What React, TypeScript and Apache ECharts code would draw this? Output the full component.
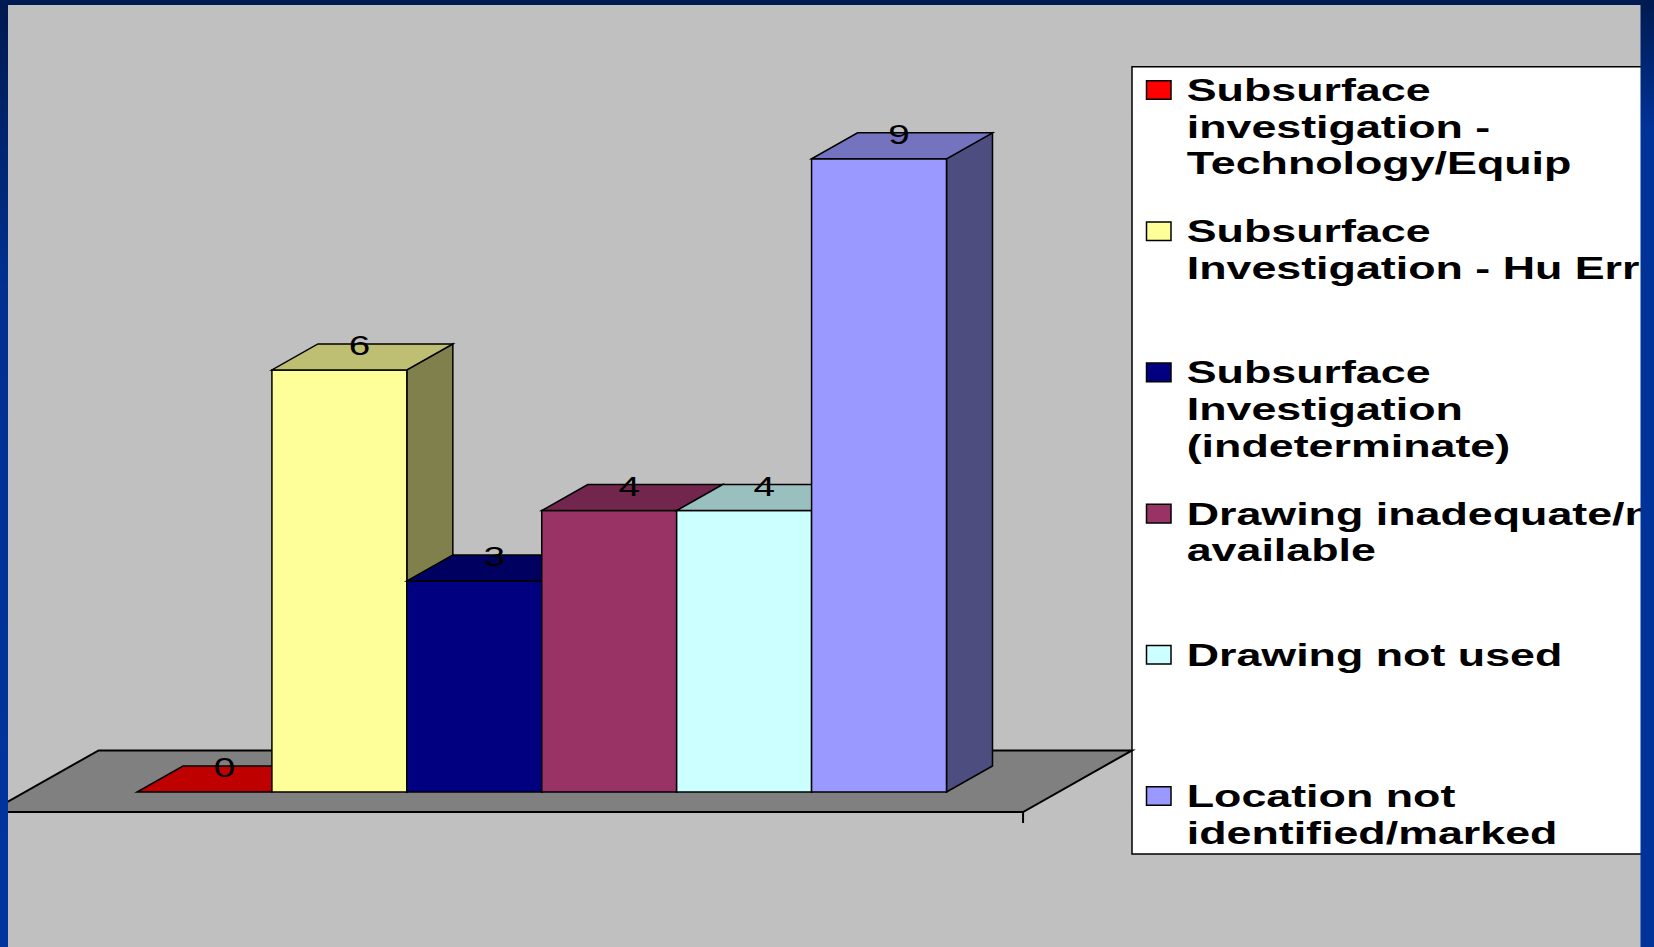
import React, { useEffect, useRef } from "react";
import * as echarts from "echarts";

// ---- data ----
const categories: string[] = [
  "Subsurface\ninvestigation -\nTechnology/Equip",
  "Subsurface\nInvestigation - Hu Error",
  "Subsurface\nInvestigation\n(indeterminate)",
  "Drawing inadequate/not\navailable",
  "Drawing not used",
  "Location not\nidentified/marked",
];
const values: number[] = [0, 6, 3, 4, 4, 9];
const colors: string[] = ["#ff0000", "#ffff99", "#000080", "#993366", "#ccffff", "#9999ff"];

// ---- style / layout constants ----
const W = 1654;
const H = 947;
const DX = 46;
const DY = -26;
const STRETCH = 1.38;
const LEGEND_STRETCH = 1.4;

function shade(hex: string, k: number): string {
  const n = parseInt(hex.slice(1), 16);
  const r = Math.round(((n >> 16) & 255) * k);
  const g = Math.round(((n >> 8) & 255) * k);
  const b = Math.round((n & 255) * k);
  return "rgb(" + r + "," + g + "," + b + ")";
}

export default function App() {
  const ref = useRef<HTMLDivElement>(null);

  useEffect(() => {
    if (!ref.current) return;
    const chart = echarts.init(ref.current, null, { renderer: "svg" });

    const stroke = { stroke: "#000", lineWidth: 1.5, lineJoin: "miter" as const };

    const legendLH = 36.7;
    const legendTop = 90;
    const legendStep = 141.2;
    const legendChildren: any[] = [
      {
        type: "rect",
        shape: { x: 1132, y: 66.7, width: 600, height: 787.3 },
        style: { fill: "#ffffff", stroke: "#000", lineWidth: 1.5 },
      },
    ];
    categories.forEach((name, i) => {
      const cy = legendTop + i * legendStep;
      legendChildren.push({
        type: "rect",
        shape: { x: 1146.5, y: cy - 9.3, width: 24.5, height: 18.6 },
        style: { fill: colors[i], stroke: "#000", lineWidth: 1.5 },
      });
      legendChildren.push({
        type: "text",
        x: 1186.7,
        y: cy - legendLH / 2,
        scaleX: LEGEND_STRETCH,
        style: {
          text: name,
          fontSize: 32,
          fontWeight: "bold",
          fontFamily: "Liberation Sans, Arial, sans-serif",
          fill: "#000",
          lineHeight: legendLH,
          align: "left",
          verticalAlign: "top",
        },
      });
    });

    const option: any = {
      animation: false,
      backgroundColor: "#c0c0c0",
      grid: { left: 137, right: W - 946.5, top: 88.5, bottom: H - 792 },
      xAxis: { type: "category", data: categories, show: false },
      yAxis: { type: "value", min: 0, max: 10, show: false, splitLine: { show: false } },
      series: [
        {
          type: "custom",
          z: 1,
          data: [[0, 0]],
          renderItem: (params: any, api: any) => {
            const cs = params.coordSys;
            const baseY = cs.y + cs.height;
            const bw = api.size([1, 0])[0];
            const margin = bw * 0.83;
            const L = cs.x - margin;
            const R = cs.x + cs.width + margin;
            const f = -0.77;
            const b = 1.6;
            const pts = [
              [L + DX * f, baseY + DY * f],
              [R + DX * f, baseY + DY * f],
              [R + DX * b, baseY + DY * b],
              [L + DX * b, baseY + DY * b],
            ];
            return {
              type: "group",
              children: [
                {
                  type: "polygon",
                  shape: { points: pts },
                  style: { fill: "#808080", stroke: "#000", lineWidth: 2 },
                },
                {
                  type: "line",
                  shape: { x1: pts[1][0], y1: pts[1][1], x2: pts[1][0], y2: pts[1][1] + 11 },
                  style: { stroke: "#000", lineWidth: 2 },
                },
              ],
            };
          },
        },
        {
          type: "custom",
          z: 2,
          data: values.map((v, i) => [i, v]),
          renderItem: (params: any, api: any) => {
            const i = params.dataIndex;
            const v = api.value(1);
            const base = api.coord([api.value(0), 0]);
            const top = api.coord([api.value(0), v]);
            const bw = api.size([1, 0])[0];
            const x0 = base[0] - bw / 2;
            const x1 = base[0] + bw / 2;
            const yb = base[1];
            const yt = top[1];
            const c = colors[i];
            const children: any[] = [];
            if (v > 0) {
              children.push({
                type: "polygon",
                shape: { points: [[x1, yb], [x1 + DX, yb + DY], [x1 + DX, yt + DY], [x1, yt]] },
                style: { fill: shade(c, 0.5), ...stroke },
              });
              children.push({
                type: "polygon",
                shape: { points: [[x0, yb], [x1, yb], [x1, yt], [x0, yt]] },
                style: { fill: c, ...stroke },
              });
            }
            children.push({
              type: "polygon",
              shape: { points: [[x0, yt], [x1, yt], [x1 + DX, yt + DY], [x0 + DX, yt + DY]] },
              style: { fill: shade(c, 0.75), ...stroke },
            });
            children.push({
              type: "text",
              x: base[0] + 20,
              y: yt + DY + 1,
              scaleX: STRETCH,
              style: {
                text: String(v),
                fontSize: 28,
                fontFamily: "Liberation Sans, Arial, sans-serif",
                fill: "#000",
                align: "center",
                verticalAlign: "middle",
              },
            });
            return { type: "group", children };
          },
        },
      ],
      graphic: [
        { type: "group", z: 10, children: legendChildren },
        {
          type: "rect",
          z: 100,
          shape: { x: 0, y: 0, width: 8, height: H },
          style: {
            fill: new echarts.graphic.LinearGradient(0, 0, 0, 1, [
              { offset: 0, color: "#001a4f" },
              { offset: 0.3, color: "#003090" },
              { offset: 1, color: "#0035a0" },
            ]),
          },
        },
        {
          type: "rect",
          z: 100,
          shape: { x: 1640.5, y: 0, width: W - 1640.5, height: H },
          style: {
            fill: new echarts.graphic.LinearGradient(0, 0, 0, 1, [
              { offset: 0, color: "#001a4f" },
              { offset: 0.14, color: "#00339a" },
              { offset: 1, color: "#00339a" },
            ]),
          },
        },
        {
          type: "rect",
          z: 100,
          shape: { x: 0, y: 0, width: W, height: 5 },
          style: { fill: "#001b52" },
        },
      ],
    };

    chart.setOption(option);
    return () => chart.dispose();
  }, []);

  return (
    <div
      ref={ref}
      style={{ position: "fixed", left: 0, top: 0, width: W, height: H }}
    />
  );
}
